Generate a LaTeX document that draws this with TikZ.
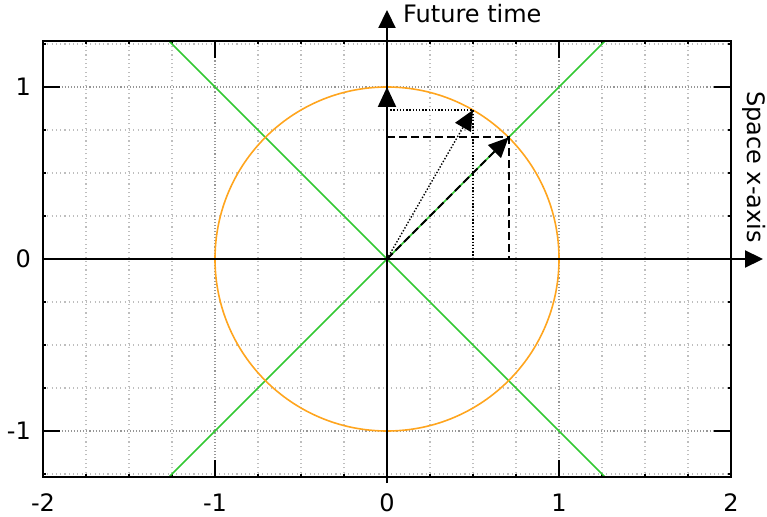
\documentclass[tikz,border=0pt]{standalone}
\usepackage{fontspec}
\setmainfont{DejaVu Sans}
\usetikzlibrary{arrows.meta}
\definecolor{gridminor}{RGB}{190,190,190}
\definecolor{gridmajor}{RGB}{150,150,150}
\definecolor{lgreen}{RGB}{50,200,50}
\definecolor{corange}{RGB}{255,165,30}
\begin{document}
\begin{tikzpicture}[x=172pt,y=172pt,
  lbl/.style={font=\fontsize{24}{28}\selectfont, inner sep=0pt},
  gridmin/.style={gridminor, line width=1.1pt, dash pattern=on 1.1pt off 3.2pt},
  gridmaj/.style={gridmajor, line width=1.1pt, dash pattern=on 1.1pt off 2pt},
  ticks/.style={black, line width=1.8pt},
  frame/.style={black, line width=2pt},
  greenline/.style={lgreen, line width=1.6pt},
  orangeline/.style={corange, line width=1.6pt},
  axisline/.style={black, line width=2.2pt, -{Triangle[length=18pt,width=17pt]}},
  vec/.style={black, -{Triangle[length=20pt,width=18pt]}},
  dashline/.style={black, line width=2pt, dash pattern=on 8pt off 4pt},
  dotline/.style={black, line width=1.4pt, dash pattern=on 1.4pt off 1.8pt}]
\useasboundingbox (-387pt,-257pt) rectangle (380pt,259pt);
\def\yt{1.267}
% grid
\foreach \i in {-7,...,7}{
  \pgfmathtruncatemacro{\m}{mod(abs(\i),4)}
  \ifnum\m=0
    \draw[gridmaj] ({\i/4},-\yt) -- ({\i/4},\yt);
  \else
    \draw[gridmin] ({\i/4},-\yt) -- ({\i/4},\yt);
  \fi
}
\foreach \j in {-5,...,5}{
  \pgfmathtruncatemacro{\m}{mod(abs(\j),4)}
  \ifnum\m=0
    \draw[gridmaj] (-2,{\j/4}) -- (2,{\j/4});
  \else
    \draw[gridmin] (-2,{\j/4}) -- (2,{\j/4});
  \fi
}
% ticks
\foreach \i in {-7,...,7}{
  \pgfmathtruncatemacro{\m}{mod(abs(\i),4)}
  \ifnum\m=0 \def\tl{17pt}\else\def\tl{3pt}\fi
  \draw[ticks] ({\i/4},-\yt) -- ++(0,\tl);
  \draw[ticks] ({\i/4},\yt) -- ++(0,-\tl);
}
\foreach \j in {-5,...,5}{
  \pgfmathtruncatemacro{\m}{mod(abs(\j),4)}
  \ifnum\m=0 \def\tl{17pt}\else\def\tl{3pt}\fi
  \draw[ticks] (-2,{\j/4}) -- ++(\tl,0);
  \draw[ticks] (2,{\j/4}) -- ++(-\tl,0);
}
% light cone lines and circle
\draw[greenline] (-\yt,\yt) -- (\yt,-\yt);
\draw[greenline] (-\yt,-\yt) -- (\yt,\yt);
\draw[orangeline] (0,0) circle (1);
% axes
\coordinate (O) at (0,0);
\coordinate (xs) at (-2,0);
\coordinate (xe) at (376pt,0pt);
\coordinate (ys) at (0pt,-224pt);
\coordinate (ye) at (0pt,249pt);
\draw[axisline] (xs) -- (xe);
\draw[axisline] (ys) -- (ye);
% frame
\draw[frame] (-2,-\yt) rectangle (2,\yt);
% vectors
\coordinate (T) at (0,1);
\coordinate (D) at (0.7071,0.7071);
\coordinate (Dx) at (0.7071,0);
\coordinate (Dy) at (0,0.7071);
\coordinate (P) at (0.5,0.8660);
\coordinate (Px) at (0.5,0);
\coordinate (Py) at (0,0.8660);
\draw[dashline] (Dy) -- (D) -- (Dx);
\draw[dotline] (Py) -- (P) -- (Px);
\draw[vec, line width=2.2pt] (O) -- (T);
\draw[vec, dashline] (O) -- (D);
\draw[vec, dotline] (O) -- (P);
% labels
\node[lbl, anchor=base west] (ft) at (16pt,236pt) {Future time};
\node[lbl, rotate=-90] (sx) at (367pt,92pt) {Space x-axis};
\foreach \x/\t in {-2/-2,-1/-1,0/0,1/1,2/2}{
  \node[lbl, anchor=base] (xl\t) at (\x,-252pt) {\t};
}
\foreach \y/\t in {-1/-1,0/0,1/1}{
  \node[lbl, anchor=east] (yl\t) at (-356pt,\y) {\t};
}
\end{tikzpicture}
\end{document}
